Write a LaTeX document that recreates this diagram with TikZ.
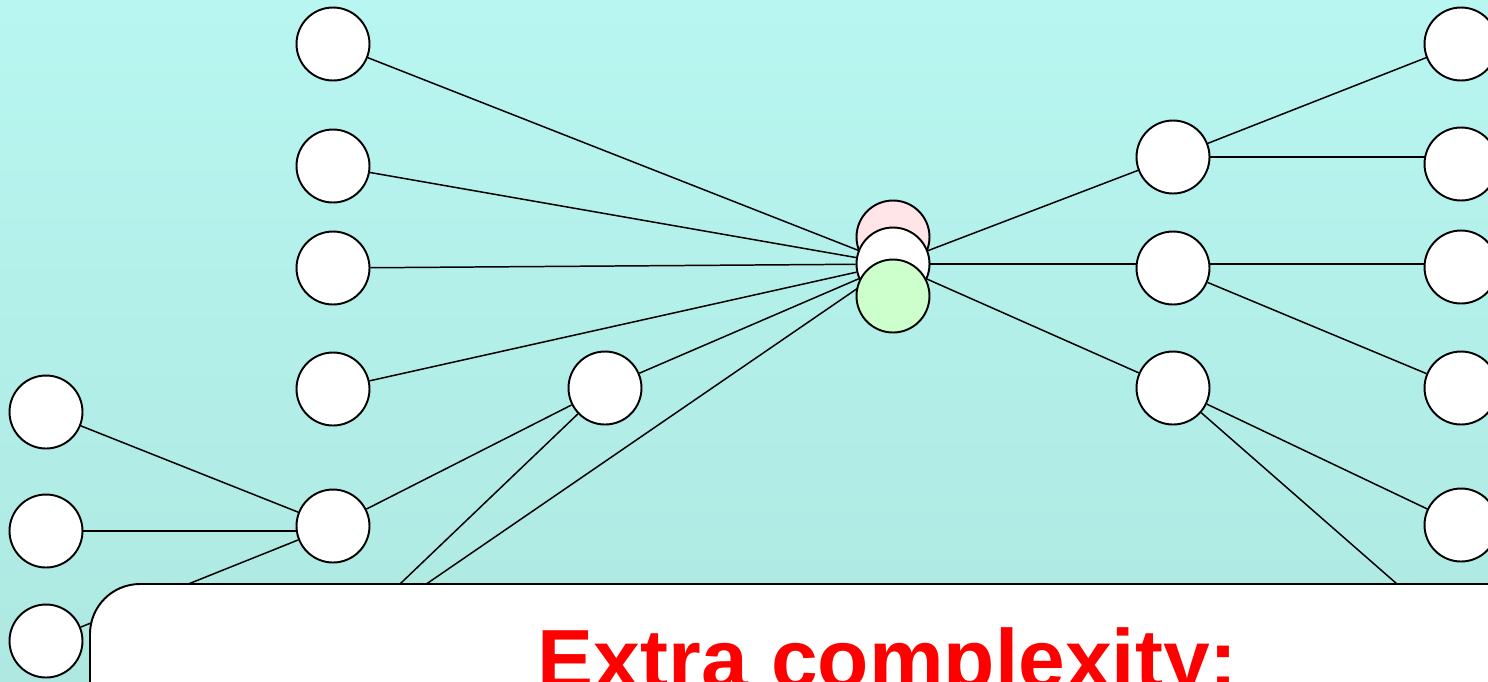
\documentclass[tikz,border=0pt]{standalone}
\usepackage{fontspec}
\setmainfont{Liberation Sans}
\usepackage{xcolor}
\usepackage{tikz}
\usetikzlibrary{backgrounds}

\definecolor{skytop}{RGB}{184,246,241}
\definecolor{skybot}{RGB}{174,232,225}
\definecolor{pinkfill}{RGB}{255,228,232}
\definecolor{greenfill}{RGB}{204,255,204}

\begin{document}
\begin{tikzpicture}[
  x=0.02cm, y=-0.02cm,
  vertex/.style={draw, circle, line width=1.1pt, fill=white, minimum size=1.46cm, inner sep=0pt},
  link/.style={line width=0.85pt},
  panel/.style={draw, line width=1.1pt, fill=white, rounded corners=1cm},
  title/.style={font=\fontsize{47.8pt}{50pt}\selectfont\bfseries, text=red, anchor=base, inner sep=0pt}
]
\useasboundingbox (0,0) rectangle (1488,681);
\clip (0,0) rectangle (1488,681);

\node[vertex] (l1) at (333,44) {};
\node[vertex] (l2) at (333,166) {};
\node[vertex] (l3) at (333,268) {};
\node[vertex] (l4) at (333,389) {};
\node[vertex] (hub) at (333,526) {};
\coordinate (lhid) at (333,648);

\node[vertex] (f1) at (46,412) {};
\node[vertex] (f2) at (46,531) {};
\node[vertex] (f3) at (46,641) {};

\node[vertex] (mid) at (605,388) {};

\node[vertex, fill=pinkfill] (cpink) at (893,237) {};
\node[vertex] (core) at (893,264) {};
\node[vertex, fill=greenfill] (cgreen) at (893,296) {};

\node[vertex] (r1) at (1173,157) {};
\node[vertex] (r2) at (1173,268) {};
\node[vertex] (r3) at (1173,388) {};

\node[vertex] (rr1) at (1461,44) {};
\node[vertex] (rr2) at (1461,164) {};
\node[vertex] (rr3) at (1461,267) {};
\node[vertex] (rr4) at (1461,388) {};
\node[vertex] (rr5) at (1461,525) {};
\coordinate (rrhid) at (1461,640);

\begin{scope}[on background layer]
\fill[top color=skytop, bottom color=skybot] (0,0) rectangle (1488,681);
\draw[link] (l1) -- (core);
\draw[link] (l2) -- (core);
\draw[link] (l3) -- (core);
\draw[link] (l4) -- (core);
\draw[link] (mid) -- (core);
\draw[link] (lhid) -- (core);
\draw[link] (lhid) -- (mid);
\draw[link] (hub) -- (mid);
\draw[link] (f1) -- (hub);
\draw[link] (f2) -- (f2 -| hub);
\draw[link] (f3) -- (hub);
\draw[link] (core) -- (r1);
\draw[link] (core) -- (core -| r2);
\draw[link] (core) -- (r3);
\draw[link] (r1) -- (rr1);
\draw[link] (r1) -- (r1 -| rr2);
\draw[link] (core -| r2) -- (core -| rr3);
\draw[link] (r2) -- (rr4);
\draw[link] (r3) -- (rr5);
\draw[link] (r3) -- (rrhid);
\end{scope}

\draw[panel] (90,584) rectangle (1560,780);
\node[title] (extra) at (888,688) {Extra complexity:};
\end{tikzpicture}
\end{document}
